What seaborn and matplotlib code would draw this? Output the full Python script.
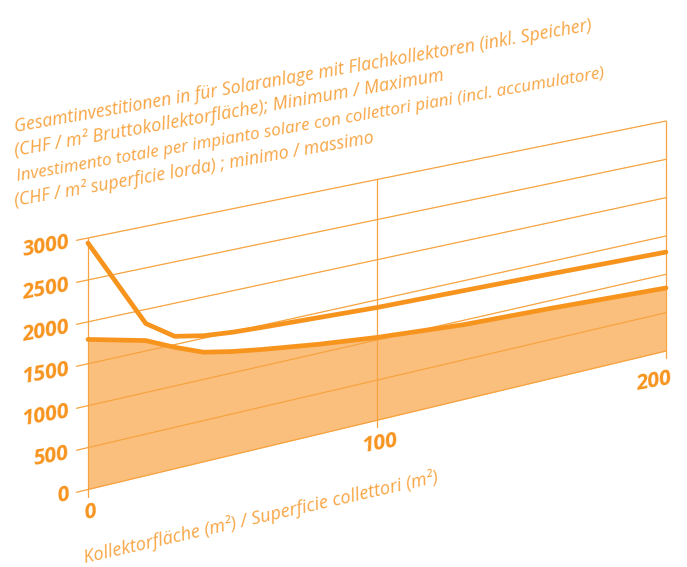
import numpy as np
import matplotlib
matplotlib.use("Agg")
import matplotlib.pyplot as plt
from matplotlib.transforms import Transform
import seaborn as sns

# --- data (CHF per m2 vs collector area) ---
area = [0, 20, 30, 40, 50, 60, 80, 100, 130, 160, 200]
cost_max = [2940, 1830, 1600, 1530, 1495, 1475, 1440, 1405, 1375, 1342, 1290]
cost_min = [1790, 1625, 1467, 1330, 1260, 1205, 1110, 1032, 945, 900, 822]
y_ticks = [0, 500, 1000, 1500, 2000, 2500, 3000]
x_ticks = [0, 100, 200]

title_lines = [
    "Gesamtinvestitionen in für Solaranlage mit Flachkollektoren (inkl. Speicher)",
    "(CHF / m² Bruttokollektorfläche); Minimum / Maximum",
    "Investimento totale per impianto solare con collettori piani (incl. accumulatore)",
    "(CHF / m² superficie lorda) ; minimo / massimo",
]
x_title = "Kollektorfläche (m²) / Superficie collettori (m²)"

ORANGE = "#F7941E"
FILL = "#FBBF7D"
GRID = "#F6A340"
TEXT = "#F8A544"


class Perspective(Transform):
    """bilinear map from (area, CHF) to pixel coords of the tilted panel"""
    input_dims = 2
    output_dims = 2
    is_separable = False
    # panel corners in pixels: left/right edge x, bottom(0) and top(3000) y
    x_l, x_r = 88.0, 666.0
    yb_l, yb_r = 489.5, 351.0
    yt_l, yt_r = 238.0, 121.0

    def transform_non_affine(self, values):
        v = np.asarray(values, dtype=float).reshape(-1, 2)
        t = v[:, 0] / 200.0
        f = v[:, 1] / 3000.0
        px = self.x_l + (self.x_r - self.x_l) * t
        yb = self.yb_l + (self.yb_r - self.yb_l) * t
        yt = self.yt_l + (self.yt_r - self.yt_l) * t
        py = yb + (yt - yb) * f
        return np.column_stack([px, py])


sns.set_theme(style="white")
plt.rcParams["font.family"] = ["Open Sans", "DejaVu Sans"]

fig = plt.figure(figsize=(6.87, 5.67), dpi=100)
ax = fig.add_axes([0, 0, 1, 1])
ax.set_xlim(0, 687)
ax.set_ylim(567, 0)
ax.autoscale(False)
tr = Perspective() + ax.transData

# filled band under the minimum curve
ax.fill_between(area, 0, cost_min, color=FILL, lw=0, transform=tr, zorder=1)

# grid
for v in y_ticks:
    ax.plot([-4, 200], [v, v], color=GRID, lw=0.9, transform=tr, zorder=2)
for x in x_ticks:
    ax.plot([x, x], [-90, 3000], color=GRID, lw=0.9, transform=tr, zorder=2)

sns.lineplot(x=area, y=cost_max, ax=ax, color=ORANGE, lw=3.4,
             solid_capstyle="round", transform=tr, zorder=3)
sns.lineplot(x=area, y=cost_min, ax=ax, color=ORANGE, lw=3.4,
             solid_capstyle="round", transform=tr, zorder=3)

ax.set_xlim(0, 687)
ax.set_ylim(567, 0)
ax.set_axis_off()

# y tick labels, anchored just left of the grid line ends
for v in y_ticks:
    px, py = Perspective().transform([[-6.5, v]])[0]
    ax.text(px, py + 1, str(v), ha="right", va="center", rotation=10,
            rotation_mode="anchor", color=ORANGE, fontsize=15.5,
            fontweight="bold", fontstyle="italic")

for x, (px, py) in zip(x_ticks, [(90, 513), (380, 443), (654, 381)]):
    ax.text(px, py, str(x), ha="center", va="center", rotation=10,
            rotation_mode="anchor", color=ORANGE, fontsize=15.5,
            fontweight="bold", fontstyle="italic")

title_pos = [(15, 132), (15, 156), (17, 181), (15, 206)]
title_size = [12.8, 13.1, 12.3, 12.8]
for line, (px, py), fs in zip(title_lines, title_pos, title_size):
    ax.text(px, py, line, ha="left", va="baseline", rotation=10,
            rotation_mode="anchor", color=TEXT, fontsize=fs,
            fontstyle="italic")

ax.text(85, 563, x_title, ha="left", va="baseline", rotation=12.9,
        rotation_mode="anchor", color=TEXT, fontsize=13.1,
        fontstyle="italic")

fig.savefig("out.png", dpi=100)
